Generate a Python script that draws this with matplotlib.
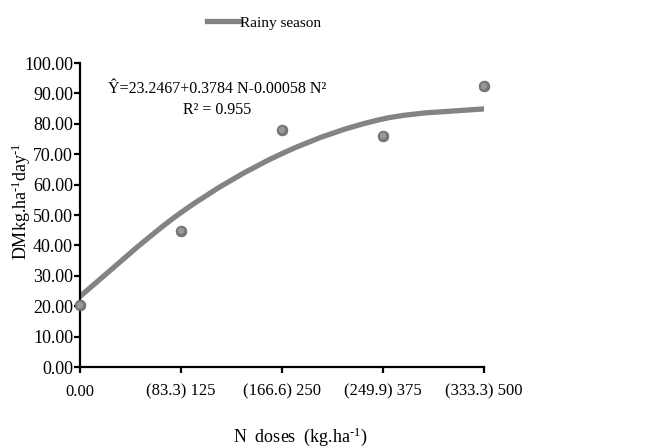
import matplotlib.pyplot as plt
import numpy as np
from matplotlib.path import Path
from matplotlib.patches import PathPatch

plt.rcParams['font.family'] = ['Liberation Serif', 'DejaVu Serif']
plt.rcParams['mathtext.fontset'] = 'custom'
plt.rcParams['mathtext.rm'] = 'Liberation Serif'
plt.rcParams['mathtext.it'] = 'Liberation Serif:italic'

# data
doses = [0, 125, 250, 375, 500]
tick_labels = ['0.00', '(83.3) 125', '(166.6) 250', '(249.9) 375', '(333.3) 500']
observed = [20.3, 44.8, 78.0, 76.1, 92.4]
fitted = [23.2, 50.8, 70.2, 81.6, 84.9]

fig = plt.figure(figsize=(6.51, 4.48), dpi=100)
ax = fig.add_axes([80/651, 1-367/448, 404/651, 304/448])

# excel-like smoothed line through fitted values (cardinal spline as bezier)
xs = np.array(doses, float)
ys = np.array(fitted, float)
verts = [(xs[0], ys[0])]
codes = [Path.MOVETO]
t = 1/6
for i in range(len(xs)-1):
    p0 = (xs[max(i-1, 0)], ys[max(i-1, 0)])
    p1 = (xs[i], ys[i])
    p2 = (xs[i+1], ys[i+1])
    p3 = (xs[min(i+2, len(xs)-1)], ys[min(i+2, len(xs)-1)])
    c1 = (p1[0] + (p2[0]-p0[0])*t, p1[1] + (p2[1]-p0[1])*t)
    c2 = (p2[0] - (p3[0]-p1[0])*t, p2[1] - (p3[1]-p1[1])*t)
    verts += [c1, c2, p2]
    codes += [Path.CURVE4]*3
ax.add_patch(PathPatch(Path(verts, codes), facecolor='none', edgecolor='#838383',
                       lw=3.8, capstyle='round', zorder=2))
ax.plot([], [], color='#838383', lw=3.8, label='Rainy season')

# shaded sphere markers
ax.scatter(doses, observed, s=60, color='#767676', edgecolor='#666666', lw=0.5,
           zorder=3, clip_on=False)
ax.scatter(doses, observed, s=22, color='#9c9c9c', edgecolor='none',
           zorder=4, clip_on=False, alpha=0.9)

ax.set_xlim(0, 500)
ax.set_ylim(0, 100)
ax.set_xticks(doses)
ax.set_xticklabels(tick_labels, fontsize=12)
ax.set_yticks(np.arange(0, 101, 10))
ax.set_yticklabels(['%.2f' % v for v in np.arange(0, 101, 10)], fontsize=13)
for s in ['top', 'right']:
    ax.spines[s].set_visible(False)
for s in ['left', 'bottom']:
    ax.spines[s].set_linewidth(1.6)
ax.tick_params(axis='both', direction='out', length=4, width=1.6)
ax.tick_params(axis='y', pad=1)
ax.tick_params(axis='x', pad=8)

ax.text(0.34, 0.915, 'Ŷ=23.2467+0.3784 N-0.00058 N²', transform=ax.transAxes,
        ha='center', va='center', fontsize=11.5)
ax.text(0.34, 0.845, 'R² = 0.955', transform=ax.transAxes,
        ha='center', va='center', fontsize=11.5)

fig.text(21/651, 1-201/448, r'DMkg.ha$^{\text{-}1}$day$^{\text{-}1}$', rotation=90,
         ha='center', va='center', fontsize=13)
fig.text(300/651, 1-437/448, r'N  doses  (kg.ha$^{\text{-}1}$)', ha='center',
         va='center', fontsize=13)

fig.legend(loc='center', bbox_to_anchor=(264/651, 1-23/448), frameon=False,
           fontsize=11, handlelength=2.2, handletextpad=0.0)

fig.savefig('out.png', dpi=100)
